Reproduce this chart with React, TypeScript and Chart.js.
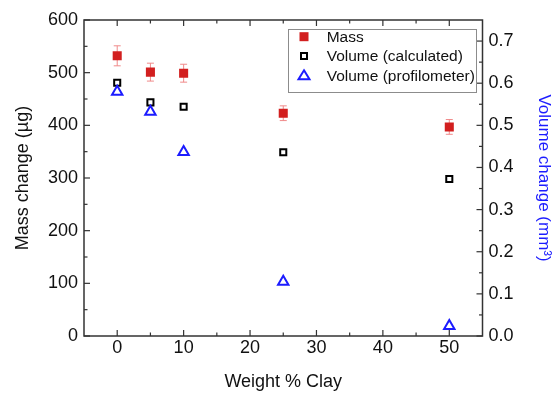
import React, { useEffect, useRef } from 'react';
import { Chart, registerables } from 'chart.js';

Chart.register(...registerables);

// ---- Data ----
const xValues = [0, 5, 10, 25, 50];
const massValues = [532, 501, 499, 423, 397];
const massErrors = [19, 17, 17, 14, 14];
const volumeCalculated = [0.601, 0.5545, 0.544, 0.436, 0.3725];
const volumeProfilometer = [0.58, 0.532, 0.437, 0.129, 0.024];
const seriesLabels = ['Mass', 'Volume (calculated)', 'Volume (profilometer)'];
const xTickValues = [0, 10, 20, 30, 40, 50];
const xTitle = 'Weight % Clay';
const yLeftTitle = 'Mass change (µg)';
const yRightTitle = 'Volume change (mm³)';

const FONT = "'Liberation Sans', Arial, sans-serif";
const RED = '#d21f1f';
const ERR = '#f08a8a';
const BLUE = '#1c1cff';
const FRAME = '#333333';

const framePlugin = {
  id: 'frameTicks',
  beforeDatasetsDraw(chart: any) {
    const { ctx, chartArea: a, scales } = chart;
    const xs = scales.x;
    const yl = scales.y;
    const yr = scales.y1;
    ctx.save();
    ctx.strokeStyle = FRAME;
    ctx.lineWidth = 1.5;
    ctx.strokeRect(a.left, a.top, a.right - a.left, a.bottom - a.top);
    ctx.lineWidth = 1.2;
    const major = 6;
    const minor = 3.5;
    const drawX = (v: number, len: number) => {
      const p = xs.getPixelForValue(v);
      ctx.beginPath();
      ctx.moveTo(p, a.bottom);
      ctx.lineTo(p, a.bottom - len);
      ctx.moveTo(p, a.top);
      ctx.lineTo(p, a.top + len);
      ctx.stroke();
    };
    const xt = xs.ticks.map((t: any) => t.value);
    xt.forEach((v: number, i: number) => {
      drawX(v, major);
      if (i < xt.length - 1) drawX((v + xt[i + 1]) / 2, minor);
    });
    const drawY = (scale: any, v: number, len: number, left: boolean) => {
      const p = scale.getPixelForValue(v);
      ctx.beginPath();
      if (left) {
        ctx.moveTo(a.left, p);
        ctx.lineTo(a.left + len, p);
      } else {
        ctx.moveTo(a.right, p);
        ctx.lineTo(a.right - len, p);
      }
      ctx.stroke();
    };
    const ylt = yl.ticks.map((t: any) => t.value);
    ylt.forEach((v: number, i: number) => {
      drawY(yl, v, major, true);
      if (i < ylt.length - 1) drawY(yl, (v + ylt[i + 1]) / 2, minor, true);
    });
    const yrt = yr.ticks.map((t: any) => t.value);
    yrt.forEach((v: number, i: number) => {
      drawY(yr, v, major, false);
      if (i < yrt.length - 1) drawY(yr, (v + yrt[i + 1]) / 2, minor, false);
    });

    // error bars for mass
    ctx.strokeStyle = ERR;
    ctx.lineWidth = 1;
    const cap = 3.5;
    xValues.forEach((x, i) => {
      const px = xs.getPixelForValue(x);
      const top = yl.getPixelForValue(massValues[i] + massErrors[i]);
      const bot = yl.getPixelForValue(massValues[i] - massErrors[i]);
      ctx.beginPath();
      ctx.moveTo(px, top);
      ctx.lineTo(px, bot);
      ctx.moveTo(px - cap, top);
      ctx.lineTo(px + cap, top);
      ctx.moveTo(px - cap, bot);
      ctx.lineTo(px + cap, bot);
      ctx.stroke();
    });
    ctx.restore();
  },
  afterDraw(chart: any) {
    const { ctx, chartArea: a } = chart;
    const bx = a.left + 204;
    const by = a.top + 9;
    const bw = 188;
    const bh = 63;
    ctx.save();
    ctx.fillStyle = '#ffffff';
    ctx.fillRect(bx, by, bw, bh);
    ctx.strokeStyle = '#8c8c8c';
    ctx.lineWidth = 1;
    ctx.strokeRect(bx + 0.5, by + 0.5, bw, bh);
    const rows = [7.7, 27, 46.3];
    const mx = bx + 16;
    ctx.fillStyle = RED;
    ctx.fillRect(mx - 4.5, by + rows[0] - 4.5, 9, 9);
    ctx.strokeStyle = '#000';
    ctx.lineWidth = 2;
    ctx.strokeRect(mx - 3, by + rows[1] - 3, 6, 6);
    ctx.strokeStyle = BLUE;
    ctx.lineWidth = 2;
    const ty = by + rows[2];
    ctx.beginPath();
    ctx.moveTo(mx, ty - 5);
    ctx.lineTo(mx + 5.5, ty + 4);
    ctx.lineTo(mx - 5.5, ty + 4);
    ctx.closePath();
    ctx.stroke();
    ctx.fillStyle = '#111';
    ctx.font = `15.5px ${FONT}`;
    ctx.textBaseline = 'middle';
    ctx.textAlign = 'left';
    seriesLabels.forEach((l, i) => {
      ctx.fillText(l, bx + 38.7, by + rows[i] + 1);
    });
    ctx.restore();
  },
};

export default function App() {
  const ref = useRef<HTMLCanvasElement>(null);
  useEffect(() => {
    const canvas = ref.current!;
    Chart.defaults.font.family = FONT;
    const chart = new Chart(canvas, {
      type: 'scatter',
      data: {
        datasets: [
          {
            label: seriesLabels[0],
            data: xValues.map((x, i) => ({ x, y: massValues[i] })),
            yAxisID: 'y',
            pointStyle: 'rect',
            pointRadius: 6.4,
            backgroundColor: RED,
            borderColor: RED,
            borderWidth: 0,
            order: 2,
          },
          {
            label: seriesLabels[1],
            data: xValues.map((x, i) => ({ x, y: volumeCalculated[i] })),
            yAxisID: 'y1',
            pointStyle: 'rect',
            pointRadius: 4.3,
            backgroundColor: 'rgba(255,255,255,0)',
            borderColor: '#000',
            borderWidth: 2,
            order: 1,
          },
          {
            label: seriesLabels[2],
            data: xValues.map((x, i) => ({ x, y: volumeProfilometer[i] })),
            yAxisID: 'y1',
            pointStyle: 'triangle',
            pointRadius: 6,
            backgroundColor: 'rgba(255,255,255,0)',
            borderColor: BLUE,
            borderWidth: 2,
            order: 0,
          },
        ],
      },
      options: {
        animation: false,
        responsive: false,
        devicePixelRatio: 1,
        layout: { padding: { top: 20, left: 0, right: 0, bottom: 0 } },
        plugins: {
          legend: { display: false },
          tooltip: { enabled: false },
        },
        scales: {
          x: {
            type: 'linear',
            position: 'bottom',
            min: -5,
            max: 55,
            grid: { display: false, drawTicks: false },
            border: { display: false },
            afterBuildTicks: (s: any) => {
              s.ticks = xTickValues.map((v) => ({ value: v }));
            },
            ticks: {
              padding: 1,
              color: '#111',
              font: { size: 18, family: FONT },
              callback: (v: any) => String(v),
            },
            title: {
              display: true,
              text: xTitle,
              color: '#111',
              font: { size: 18, family: FONT },
              padding: { top: 0, bottom: 0 },
            },
            afterFit: (s: any) => {
              s.height = 57;
            },
          },
          y: {
            type: 'linear',
            position: 'left',
            min: 0,
            max: 600,
            grid: { display: false, drawTicks: false },
            border: { display: false },
            ticks: {
              stepSize: 100,
              padding: 6,
              color: '#111',
              font: { size: 18, family: FONT },
            },
            title: {
              display: true,
              text: yLeftTitle,
              color: '#111',
              font: { size: 18, family: FONT },
              padding: { top: 12, bottom: 0 },
            },
            afterFit: (s: any) => {
              s.width = 84;
            },
          },
          y1: {
            type: 'linear',
            position: 'right',
            min: 0,
            max: 0.75,
            grid: { display: false, drawTicks: false },
            border: { display: false },
            ticks: {
              stepSize: 0.1,
              includeBounds: false,
              padding: 6,
              color: '#111',
              font: { size: 18, family: FONT },
              callback: (v: any) => Number(v).toFixed(1),
            },
            title: {
              display: true,
              text: yRightTitle,
              color: BLUE,
              font: { size: 17, family: FONT },
              padding: { top: 4, bottom: 0 },
            },
            afterFit: (s: any) => {
              s.width = 75.5;
            },
          },
        },
      },
      plugins: [framePlugin],
    } as any);
    return () => chart.destroy();
  }, []);
  return (
    <div style={{ position: 'fixed', left: 0, top: 0, width: 558, height: 393, background: '#fff' }}>
      <canvas ref={ref} width={558} height={393} style={{ display: 'block', width: 558, height: 393 }} />
    </div>
  );
}
